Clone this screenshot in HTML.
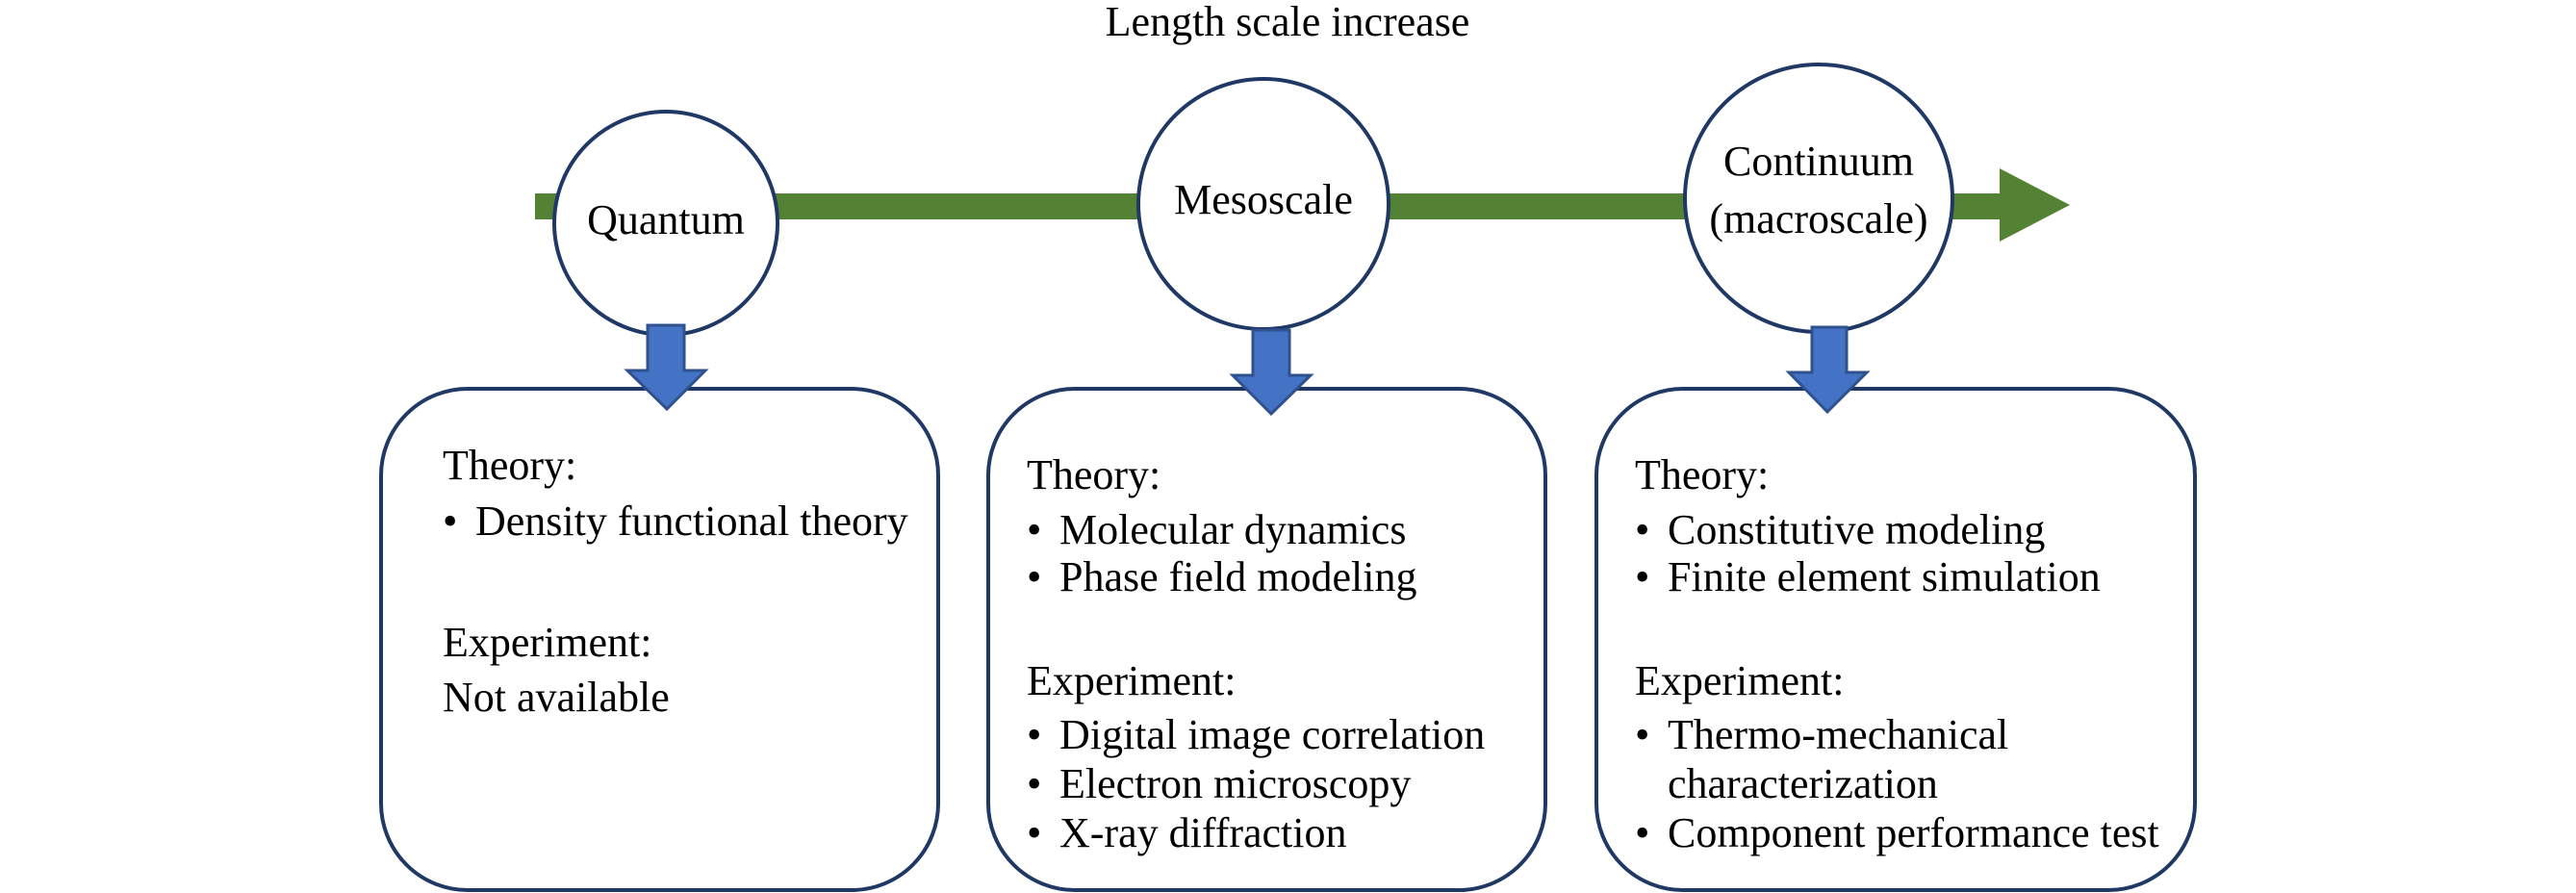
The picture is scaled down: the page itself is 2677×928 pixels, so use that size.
<!DOCTYPE html>
<html><head><meta charset="utf-8"><style>
html,body{margin:0;padding:0;background:#fff;}
svg{display:block;}
text{font-family:"Liberation Serif",serif;font-size:44px;fill:#000;}
</style></head><body>
<svg width="2677" height="928" viewBox="0 0 2677 928" xmlns="http://www.w3.org/2000/svg">
<text x="1338" y="37" text-anchor="middle">Length scale increase</text>
<!-- green arrow -->
<rect x="556" y="201" width="1524" height="27" fill="#548235"/>
<polygon points="2078,175 2151,213 2078,251" fill="#548235"/>
<!-- boxes -->
<g fill="#fff" stroke="#1f3864" stroke-width="4">
<rect x="396" y="404" width="579" height="521" rx="90" ry="90"/>
<rect x="1027" y="404" width="579" height="521" rx="90" ry="90"/>
<rect x="1659" y="404" width="622" height="521" rx="90" ry="90"/>
<circle cx="692" cy="232" r="116"/>
<circle cx="1313" cy="212" r="130"/>
<circle cx="1890" cy="206" r="139"/>
</g>
<!-- blue arrows -->
<g fill="#4472c4" stroke="#2f528f" stroke-width="3">
<polygon points="673,338 711,338 711,385 733,385 693,425 652,385 673,385"/>
<polygon points="1302,343 1340,343 1340,390 1362,390 1321,430 1281,390 1302,390"/>
<polygon points="1883,340 1919,340 1919,387 1940,387 1899,428 1859,387 1883,387"/>
</g>
<text x="692" y="243" text-anchor="middle">Quantum</text>
<text x="1313" y="222" text-anchor="middle">Mesoscale</text>
<text x="1890" y="182" text-anchor="middle">Continuum</text>
<text x="1890" y="242" text-anchor="middle">(macroscale)</text>
<!-- box1 -->
<text x="460" y="498">Theory:</text>
<text x="460" y="556">•</text><text x="494" y="556">Density functional theory</text>
<text x="460" y="682">Experiment:</text>
<text x="460" y="739">Not available</text>
<!-- box2 -->
<text x="1067" y="508">Theory:</text>
<text x="1067" y="565">•</text><text x="1101" y="565">Molecular dynamics</text>
<text x="1067" y="614">•</text><text x="1101" y="614">Phase field modeling</text>
<text x="1067" y="722">Experiment:</text>
<text x="1067" y="778">•</text><text x="1101" y="778">Digital image correlation</text>
<text x="1067" y="829">•</text><text x="1101" y="829">Electron microscopy</text>
<text x="1067" y="880">•</text><text x="1101" y="880">X-ray diffraction</text>
<!-- box3 -->
<text x="1699" y="508">Theory:</text>
<text x="1699" y="565">•</text><text x="1733" y="565">Constitutive modeling</text>
<text x="1699" y="614">•</text><text x="1733" y="614">Finite element simulation</text>
<text x="1699" y="722">Experiment:</text>
<text x="1699" y="778">•</text><text x="1733" y="778">Thermo-mechanical</text>
<text x="1733" y="829">characterization</text>
<text x="1699" y="880">•</text><text x="1733" y="880">Component performance test</text>
</svg>
</body></html>
